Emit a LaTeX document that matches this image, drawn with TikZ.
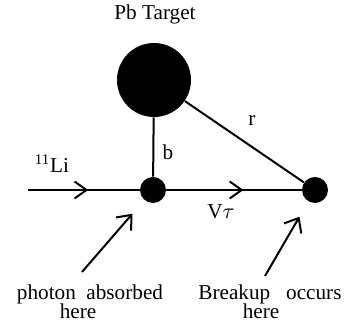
\documentclass[tikz,border=0pt]{standalone}
\usepackage{fontspec}
\setmainfont{Liberation Serif}
\usetikzlibrary{
    arrows.meta,
    decorations.markings,
    positioning
}
\tikzstyle{track} = [
    line width=1pt,
    draw=black
]
\tikzstyle{dot} = [
    circle,
    fill=black,
    inner sep=0pt,
    minimum size=13pt
]
\tikzstyle{pointer} = [
    track,
    -{Straight Barb[length=6pt, width=10pt]}
]
\tikzset{flow/.style={
    track,
    decoration={markings,
        mark=at position #1 with {\arrow{Straight Barb[length=6pt, width=8.5pt]}}},
    postaction={decorate}
}}

\begin{document}
\begin{tikzpicture}[x=0.5pt, y=-0.5pt, font=\fontsize{10.6}{12}\selectfont]
        \useasboundingbox (0,0) rectangle (345,335);

        % Target
        \node (title) at (155,14) {Pb Target};
        \node[dot, minimum size=37pt] (target) at (154,80) {};

        % Beam and dots
        \coordinate (start) at (28,190);
        \node[dot] (absorb) at (153,190) {};
        \node[dot] (breakup) at (315,190) {};
        \draw[flow=0.54] (start) -- (absorb);
        \draw[flow=0.57] (absorb) -- (breakup);
        \node (beam) at (52,164) {\textsuperscript{11}Li};
        \node (vtau) at (221,212) {V$\tau$};

        % Impact parameter and distance
        \draw[track] (target) -- (absorb);
        \draw[track] (target) -- (breakup);
        \node (blabel) at (168,152) {b};
        \node (rlabel) at (252,121) {r};

        % Pointers
        \node (absorbtxt) at (90,294) {photon\ \ absorbed};
        \node (absorbhere) at (78,311) {here};
        \node (breaktxt) at (270,294) {Breakup\ \ \ occurs};
        \node (breakhere) at (261,311) {here};
        \coordinate (abtail) at (82,272);
        \coordinate (brtail) at (265,276);
        \draw[pointer, shorten >=9pt] (abtail) -- (absorb);
        \draw[pointer, shorten >=8.75pt] (brtail) -- (breakup);
    \end{tikzpicture}
\end{document}
